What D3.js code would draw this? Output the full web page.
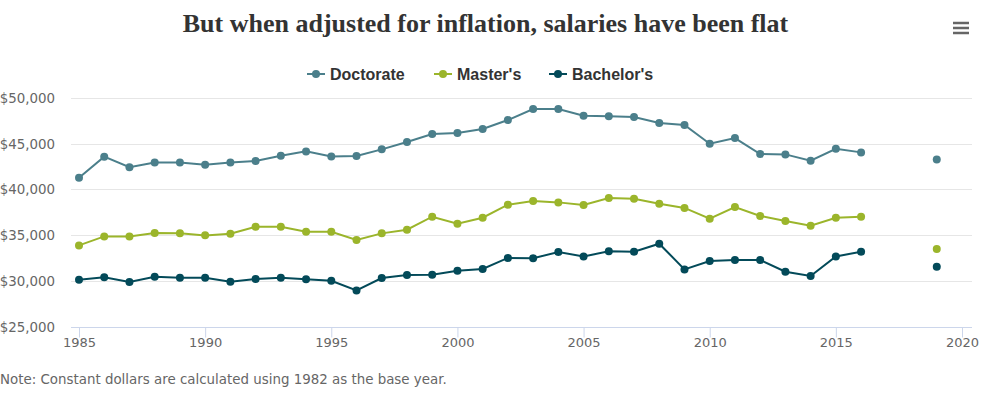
<!DOCTYPE html>
<html>
<head>
<meta charset="utf-8">
<script src="https://cdn.jsdelivr.net/npm/d3@7"></script>
<style>
  body { margin: 0; background: #fff; }
  svg { display: block; }
</style>
</head>
<body>
<svg id="chart" width="987" height="398"></svg>
<script>
const years = [1985, 1986, 1987, 1988, 1989, 1990, 1991, 1992, 1993, 1994, 1995,
  1996, 1997, 1998, 1999, 2000, 2001, 2002, 2003, 2004, 2005, 2006, 2007, 2008,
  2009, 2010, 2011, 2012, 2013, 2014, 2015, 2016, 2017, 2018, 2019];

const doctorate = [41280, 43580, 42420, 42950, 42950, 42700, 42950, 43100, 43690, 44160, 43610,
  43650, 44380, 45180, 46060, 46170, 46610, 47590, 48800, 48800, 48060, 47990, 47920, 47260,
  47040, 45000, 45620, 43870, 43830, 43140, 44450, 44050, null, null, 43280];

const masters = [33870, 34860, 34860, 35230, 35200, 34970, 35150, 35920, 35920, 35370, 35370,
  34460, 35190, 35590, 37010, 36250, 36900, 38330, 38730, 38580, 38290, 39060, 38980, 38440,
  37970, 36800, 38070, 37090, 36550, 36030, 36900, 37010, null, null, 33480];

const bachelors = [30120, 30380, 29870, 30440, 30340, 30340, 29900, 30200, 30340, 30160, 30010,
  28950, 30300, 30630, 30670, 31110, 31290, 32500, 32460, 33150, 32670, 33220, 33190, 34060,
  31250, 32170, 32280, 32280, 30990, 30520, 32670, 33180, null, null, 31540];

const seriesNames = ["Doctorate", "Master's", "Bachelor's"];
const seriesColors = ["#4b7f8b", "#9bb52b", "#034a59"];
const xTicks = [1985, 1990, 1995, 2000, 2005, 2010, 2015, 2020];
const yTicks = [25000, 30000, 35000, 40000, 45000, 50000];

const series = [doctorate, masters, bachelors].map((vals, i) => ({
  name: seriesNames[i],
  color: seriesColors[i],
  values: vals.map((v, j) => ({ year: years[j], value: v }))
}));

const svg = d3.select("#chart");

const plotLeft = 71, plotRight = 972;
const xScale = d3.scaleLinear().domain([1985, 2020]).range([79, 962]);
const yScale = d3.scaleLinear().domain([25000, 50000]).range([326.5, 98]);
const labelFont = "'DejaVu Sans', Verdana, sans-serif";

// gridlines
svg.append("g")
  .selectAll("line")
  .data(yTicks.slice(1))
  .enter()
  .append("line")
  .attr("x1", plotLeft)
  .attr("x2", plotRight)
  .attr("y1", d => Math.round(yScale(d)) + 0.5)
  .attr("y2", d => Math.round(yScale(d)) + 0.5)
  .attr("stroke", "#e6e6e6")
  .attr("stroke-width", 1);

// y labels
svg.append("g")
  .selectAll("text")
  .data(yTicks)
  .enter()
  .append("text")
  .attr("x", 55)
  .attr("y", d => yScale(d) + 5)
  .attr("text-anchor", "end")
  .attr("fill", "#666")
  .attr("font-family", labelFont)
  .attr("font-size", "13.4px")
  .text(d => "$" + d3.format(",")(d));

// x axis
const xAxis = svg.append("g")
  .attr("transform", `translate(0, ${Math.round(yScale(25000)) + 0.5})`)
  .call(d3.axisBottom(xScale).tickValues(xTicks).tickFormat(d3.format("d")).tickSize(10).tickPadding(4));
xAxis.select(".domain").attr("d", `M${plotLeft},0H${plotRight}`).attr("stroke", "#ccd6eb");
xAxis.selectAll(".tick line").attr("stroke", "#ccd6eb");
xAxis.selectAll(".tick text")
  .attr("fill", "#666")
  .attr("font-family", labelFont)
  .attr("font-size", "13px")
  .attr("dy", "0.45em");

const line = d3.line()
  .defined(d => d.value !== null)
  .x(d => xScale(d.year))
  .y(d => yScale(d.value));

const groups = svg.append("g")
  .selectAll("g")
  .data(series)
  .enter()
  .append("g");

groups.append("path")
  .attr("fill", "none")
  .attr("stroke", d => d.color)
  .attr("stroke-width", 2)
  .attr("d", d => line(d.values));

groups.selectAll("circle")
  .data(d => d.values.filter(v => v.value !== null).map(v => ({ ...v, color: d.color })))
  .enter()
  .append("circle")
  .attr("cx", d => xScale(d.year))
  .attr("cy", d => yScale(d.value))
  .attr("r", 4)
  .attr("fill", d => d.color);

// title
svg.append("text")
  .attr("x", 485.5)
  .attr("y", 32)
  .attr("text-anchor", "middle")
  .attr("fill", "#333")
  .attr("font-family", "'Liberation Serif', 'Times New Roman', serif")
  .attr("font-weight", "bold")
  .attr("font-size", "26px")
  .text("But when adjusted for inflation, salaries have been flat");

// menu icon
svg.append("g")
  .selectAll("line")
  .data([23, 28, 33])
  .enter()
  .append("line")
  .attr("x1", 953)
  .attr("x2", 969)
  .attr("y1", d => d)
  .attr("y2", d => d)
  .attr("stroke", "#666")
  .attr("stroke-width", 2.5);

// legend
const legendX = [307, 434, 549];
const legend = svg.append("g")
  .selectAll("g")
  .data(series)
  .enter()
  .append("g")
  .attr("transform", (d, i) => `translate(${legendX[i]}, 74)`);

legend.append("line")
  .attr("x1", 0).attr("x2", 18)
  .attr("stroke", d => d.color)
  .attr("stroke-width", 2);
legend.append("circle")
  .attr("cx", 9).attr("r", 4)
  .attr("fill", d => d.color);
legend.append("text")
  .attr("x", 23)
  .attr("y", 6)
  .attr("fill", "#333")
  .attr("font-family", "'Liberation Sans', Arial, sans-serif")
  .attr("font-weight", "bold")
  .attr("font-size", "16px")
  .text(d => d.name);

// note
svg.append("text")
  .attr("x", 0)
  .attr("y", 384)
  .attr("fill", "#666")
  .attr("font-family", labelFont)
  .attr("font-size", "13.4px")
  .text("Note: Constant dollars are calculated using 1982 as the base year.");
</script>
</body>
</html>
